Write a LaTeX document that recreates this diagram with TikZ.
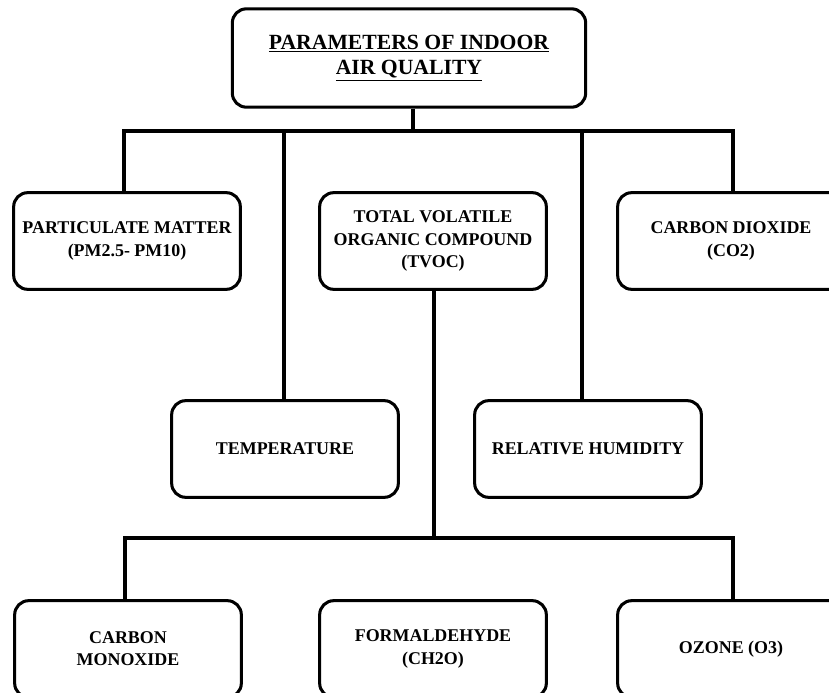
\documentclass[tikz,border=0pt]{standalone}
\usepackage{fontspec}
\setmainfont{Liberation Serif}
\usetikzlibrary{positioning}

\begin{document}
\begin{tikzpicture}[x=0.03cm, y=-0.03cm,
  box/.style={draw, line width=2.6pt, rounded corners=12pt, minimum width=6.8cm,
              minimum height=2.9cm, align=center, fill=white,
              font=\bfseries\fontsize{15.3}{19}\selectfont},
  head/.style={box, minimum width=10.6cm, minimum height=2.95cm,
               font=\bfseries\fontsize{18.5}{21.5}\selectfont},
  link/.style={line width=2.6pt}
]
\useasboundingbox (0,0) rectangle (829,693);
\clip (0,0) rectangle (829,693);
\fill[white] (0,0) rectangle (829,693);
%% LINKS
\coordinate (bus) at (413,131);
\coordinate (sub) at (434,538);
%% TOP
\node[head] (iaq) at (409,58) {\underline{PARAMETERS OF INDOOR}\\\underline{AIR QUALITY}};
%% FIRST ROW
\node[box] (pm)   at (127,241) {PARTICULATE MATTER\\(PM2.5- PM10)};
\node[box] (tvoc) at (433,241) {TOTAL VOLATILE\\ORGANIC COMPOUND\\(TVOC)};
\node[box] (co2)  at (731,241) {CARBON DIOXIDE\\(CO2)};
%% SECOND ROW
\node[box] (temp) at (285,449) {TEMPERATURE};
\node[box] (rh)   at (588,449) {RELATIVE HUMIDITY};
%% TVOC ROW
\node[box] (co)   at (128,649) {CARBON\\MONOXIDE};
\node[box] (ch2o) at (433,649) {FORMALDEHYDE\\(CH2O)};
\node[box] (o3)   at (731,649) {OZONE (O3)};
%% CONNECTORS
\draw[link] (iaq.south -| bus) -- (bus);
\foreach \n/\dx in {pm/-3,temp/-1,rh/-6,co2/2}
  \draw[link] ([xshift=\dx*0.03cm]\n.north) |- (bus);
\draw[link] (tvoc.south -| sub) -- (sub);
\foreach \n/\dx in {co/-3,o3/2}
  \draw[link] ([xshift=\dx*0.03cm]\n.north) |- (sub);
\end{tikzpicture}
\end{document}
